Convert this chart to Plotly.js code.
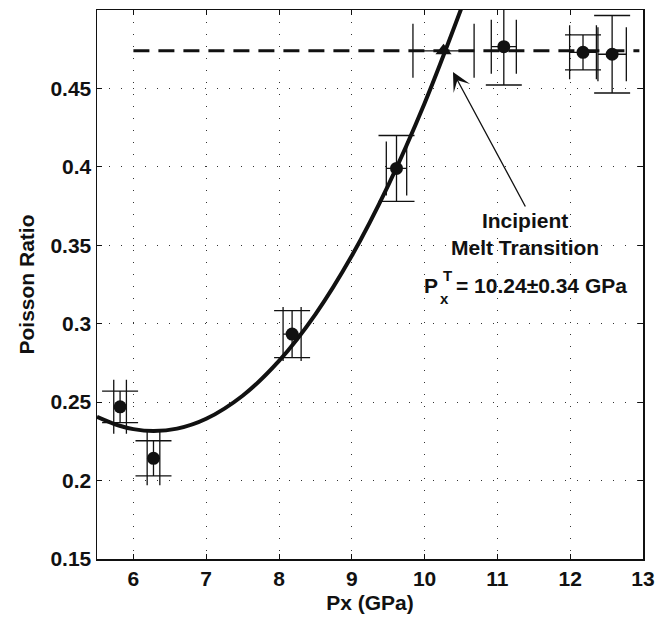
<!DOCTYPE html>
<html>
<head>
<meta charset="utf-8">
<script src="https://cdn.plot.ly/plotly-3.0.1.min.js"></script>
<style>
  html, body { margin: 0; padding: 0; background: #ffffff; }
  #chart { width: 669px; height: 625px; }
</style>
</head>
<body>
<div id="chart"></div>
<script>
// ---- Data ----
// Measured points (circles)
const pressureGPa   = [5.817, 6.276, 8.18, 9.614, 11.088, 12.176, 12.576];
const poissonRatio  = [0.247, 0.2142, 0.2934, 0.399, 0.4766, 0.473, 0.4718];
const ratioError    = [0.0100, 0.0112, 0.0150, 0.0210, 0.0244, 0.0112, 0.0247];
const pressureError = [0.087, 0.087, 0.124, 0.140, 0.172, 0.184, 0.195];

// Incipient melt transition point (triangle)
const meltPressure      = [10.26];
const meltRatio         = [0.474];
const meltPressureError = [0.42];

// Horizontal dashed level
const levelX = [6.0, 12.95];
const levelY = [0.474, 0.474];

// Fitted curve
const fitX = [5.5, 5.8, 6.0, 6.28, 6.6, 7.0, 7.5, 8.0, 8.5, 9.0, 9.5, 10.0, 10.5];
const fitY = [0.2407, 0.2351, 0.2328, 0.2316, 0.2331, 0.2394, 0.2541, 0.2763, 0.3060, 0.3433, 0.3882, 0.4406, 0.5005];

// Axis ticks
const xTickVals = [6, 7, 8, 9, 10, 11, 12, 13];
const xTickText = ["6", "7", "8", "9", "10", "11", "12", "13"];
const yTickVals = [0.15, 0.2, 0.25, 0.3, 0.35, 0.4, 0.45, 0.5];
const yTickText = ["0.15", "0.2", "0.25", "0.3", "0.35", "0.4", "0.45", "0.5"];

// ---- Styling ----
const FONT = "Liberation Sans, Arial, Helvetica, sans-serif";
const INK = "#111111";
const baseFont = { family: FONT, size: 21, color: INK, weight: 700 };

const traces = [
  {
    type: "scatter", mode: "lines",
    x: levelX, y: levelY,
    line: { color: INK, width: 3, dash: "16px,9px" },
    hoverinfo: "skip", showlegend: false
  },
  {
    type: "scatter", mode: "lines",
    x: fitX, y: fitY,
    line: { color: INK, width: 4, shape: "spline", smoothing: 1 },
    hoverinfo: "skip", showlegend: false
  },
  {
    type: "scatter", mode: "markers",
    x: pressureGPa, y: poissonRatio,
    marker: { color: INK, size: 13, symbol: "circle" },
    error_y: { type: "data", array: ratioError, visible: true, color: INK, thickness: 1.3, width: 18 },
    error_x: { type: "data", array: pressureError, visible: true, color: INK, thickness: 1.3, width: 27 },
    hoverinfo: "skip", showlegend: false
  },
  {
    type: "scatter", mode: "markers",
    x: meltPressure, y: meltRatio,
    marker: { color: INK, size: 14, symbol: "triangle-up" },
    error_x: { type: "data", array: meltPressureError, visible: true, color: INK, thickness: 1.3, width: 27 },
    hoverinfo: "skip", showlegend: false
  }
];

const axisCommon = {
  showline: true, linecolor: INK, linewidth: 1.5, mirror: "ticks",
  ticks: "inside", ticklen: 5, tickwidth: 1, tickcolor: INK,
  showgrid: true, gridcolor: "#333333", gridwidth: 1, griddash: "1px,11px",
  zeroline: false, tickfont: baseFont, tickmode: "array"
};

const layout = {
  width: 669, height: 625,
  margin: { l: 97, r: 26, t: 10, b: 66 },
  paper_bgcolor: "#ffffff", plot_bgcolor: "#ffffff",
  font: baseFont,
  showlegend: false,
  xaxis: Object.assign({}, axisCommon, {
    range: [5.5, 13],
    tickvals: xTickVals, ticktext: xTickText,
    title: { text: "Px (GPa)", font: baseFont, standoff: 6 }
  }),
  yaxis: Object.assign({}, axisCommon, {
    range: [0.15, 0.5],
    tickvals: yTickVals, ticktext: yTickText,
    title: { text: "Poisson Ratio", font: baseFont, standoff: 10 }
  }),
  annotations: [
    {
      x: 10.39, y: 0.4605, xref: "x", yref: "y",
      ax: 11.395, ay: 0.3738, axref: "x", ayref: "y",
      text: "", showarrow: true, arrowhead: 3, arrowsize: 2.4, arrowwidth: 1.3,
      arrowcolor: INK, standoff: 0
    },
    {
      x: 525, y: 234, xref: "paper", yref: "paper",
      text: "Incipient<br>Melt Transition", showarrow: false,
      font: baseFont, align: "center", xanchor: "center", yanchor: "middle"
    },
    {
      text: "P", showarrow: false, font: baseFont, xanchor: "left", yanchor: "middle"
    },
    {
      text: "T", showarrow: false, font: Object.assign({}, baseFont, { size: 15 }), xanchor: "left", yanchor: "middle"
    },
    {
      text: "x", showarrow: false, font: Object.assign({}, baseFont, { size: 15 }), xanchor: "left", yanchor: "middle"
    },
    {
      text: "= 10.24±0.34 GPa", showarrow: false, font: baseFont, xanchor: "left", yanchor: "middle"
    }
  ]
};

// Convert pixel positions of the text blocks into paper coordinates
const plotL = 97, plotT = 10, plotW = 669 - 97 - 26, plotH = 625 - 10 - 66;
function px2paper(px, py) { return { x: (px - plotL) / plotW, y: 1 - (py - plotT) / plotH }; }
const textPos = [
  null,
  [525, 234],
  [422, 285],
  [441, 276],
  [438, 298],
  [454, 285]
];
for (let i = 1; i < textPos.length; i++) {
  const p = px2paper(textPos[i][0], textPos[i][1]);
  layout.annotations[i].x = p.x; layout.annotations[i].y = p.y;
  layout.annotations[i].xref = "paper"; layout.annotations[i].yref = "paper";
}

Plotly.newPlot("chart", traces, layout, { displayModeBar: false, staticPlot: true });
</script>
</body>
</html>
